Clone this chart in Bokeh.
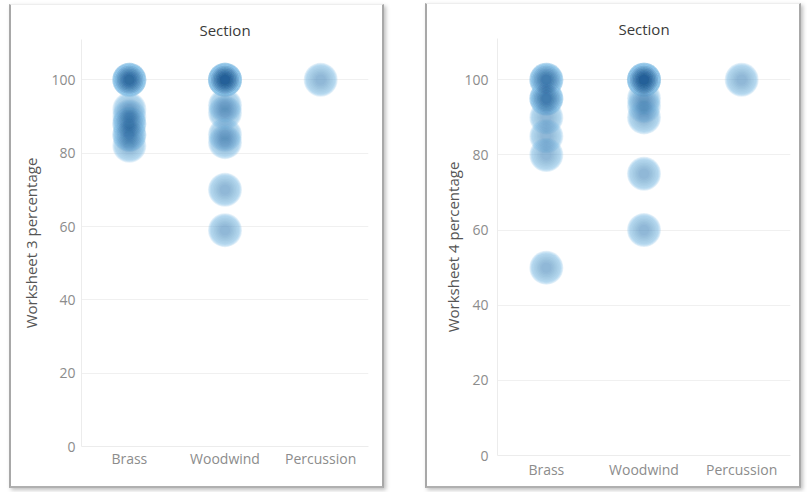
from bokeh.plotting import figure
from bokeh.models import ColumnDataSource, Range1d, FixedTicker, Spacer
from bokeh.layouts import row, column
from bokeh.embed import file_html
from bokeh.resources import INLINE

sections = ["Brass", "Woodwind", "Percussion"]
y_ticks = [0, 20, 40, 60, 80, 100]

# Worksheet 3 percentages per section
ws3_brass = [100, 100, 100, 100, 92, 90, 88, 88, 85, 85, 82]
ws3_woodwind = [100, 100, 100, 100, 100, 93, 91, 85, 83, 70, 59]
ws3_percussion = [100]

# Worksheet 4 percentages per section
ws4_brass = [100, 100, 100, 95, 95, 95, 90, 85, 80, 50]
ws4_woodwind = [100, 100, 100, 100, 100, 95, 93, 90, 75, 60]
ws4_percussion = [100]

FONT = "Open Sans"

PANEL_STYLE = {
    "border-left": "2px solid #a8a8a8",
    "border-right": "2px solid #a8a8a8",
    "border-top": "1px solid #eeeeee",
    "border-bottom": "2px solid #b0b0b0",
    "box-shadow": "2px 2px 4px rgba(0,0,0,0.25)",
    "box-sizing": "border-box",
    "background-color": "white",
}


def make_source(brass, woodwind, percussion):
    xs, ys = [], []
    for name, vals in zip(sections, [brass, woodwind, percussion]):
        xs += [name] * len(vals)
        ys += list(vals)
    return ColumnDataSource(dict(section=xs, pct=ys))


def make_panel(src, ylabel, width, height, mb_left, mb_right, mb_top, mb_bottom,
               tick_standoff, xlabel_standoff, ylabel_standoff, title_standoff):
    p = figure(x_range=sections, y_range=Range1d(0, 111), width=width, height=height,
               output_backend="svg", toolbar_location=None,
               min_border_left=mb_left, min_border_right=mb_right,
               min_border_top=mb_top, min_border_bottom=mb_bottom)
    p.x_range.range_padding = 0
    p.title.text = "Section"
    p.title.align = "center"
    p.title.text_font = FONT
    p.title.text_font_size = "15px"
    p.title.text_font_style = "normal"
    p.title.text_color = "#3a3a3a"
    p.title.text_line_height = 1.0
    p.title.standoff = title_standoff

    p.outline_line_color = None
    p.background_fill_color = "white"
    p.border_fill_color = "white"

    p.xgrid.grid_line_color = None
    p.ygrid.grid_line_color = "#f0f0f0"
    p.ygrid.ticker = FixedTicker(ticks=y_ticks)

    p.yaxis.ticker = FixedTicker(ticks=y_ticks)
    p.yaxis.axis_label = ylabel
    p.yaxis.axis_label_text_font = FONT
    p.yaxis.axis_label_text_font_size = "15px"
    p.yaxis.axis_label_text_font_style = "normal"
    p.yaxis.axis_label_text_color = "#555555"
    p.yaxis.axis_label_standoff = ylabel_standoff
    p.yaxis.major_label_text_font = FONT
    p.yaxis.major_label_text_font_size = "14px"
    p.yaxis.major_label_text_color = "#8c8c8c"
    p.yaxis.major_label_standoff = tick_standoff
    p.yaxis.axis_line_color = "#ececec"
    p.yaxis.major_tick_line_color = None
    p.yaxis.minor_tick_line_color = None
    p.yaxis.major_tick_out = 0
    p.yaxis.minor_tick_out = 0

    p.xaxis.major_label_text_font = FONT
    p.xaxis.major_label_text_font_size = "14px"
    p.xaxis.major_label_text_color = "#8c8c8c"
    p.xaxis.major_label_standoff = xlabel_standoff
    p.xaxis.axis_line_color = "#ececec"
    p.xaxis.major_tick_line_color = None
    p.xaxis.minor_tick_line_color = None
    p.xaxis.major_tick_out = 0
    p.xaxis.minor_tick_out = 0

    # soft "density" marks: light halo layers first, then faint darker cores
    for s in [34, 32.5, 31, 29.5]:
        p.scatter("section", "pct", source=src, size=s, fill_color="#8ec3e6",
                  fill_alpha=0.22, line_color=None)
    for s in [28, 25, 22, 19, 16, 13, 10]:
        p.scatter("section", "pct", source=src, size=s, fill_color="#08467f",
                  fill_alpha=0.03, line_color=None)
    return p


src3 = make_source(ws3_brass, ws3_woodwind, ws3_percussion)
src4 = make_source(ws4_brass, ws4_woodwind, ws4_percussion)

p1 = make_panel(src3, "Worksheet 3 percentage", 371, 475, 70, 14, 34, 34,
                tick_standoff=6, xlabel_standoff=2, ylabel_standoff=7, title_standoff=0)
p2 = make_panel(src4, "Worksheet 4 percentage", 376, 485, 70, 13, 34, 34,
                tick_standoff=9, xlabel_standoff=4, ylabel_standoff=-2, title_standoff=0)
p2.styles = PANEL_STYLE
p2.margin = (3, 0, 0, 41)

left_panel = column(p1, Spacer(width=371, height=6, styles={"background-color": "white"}),
                    spacing=0, width=375, height=484)
left_panel.styles = PANEL_STYLE
left_panel.margin = (4, 0, 0, 9)

layout = row(left_panel, p2)

open("out.html", "w").write(file_html(layout, INLINE))
